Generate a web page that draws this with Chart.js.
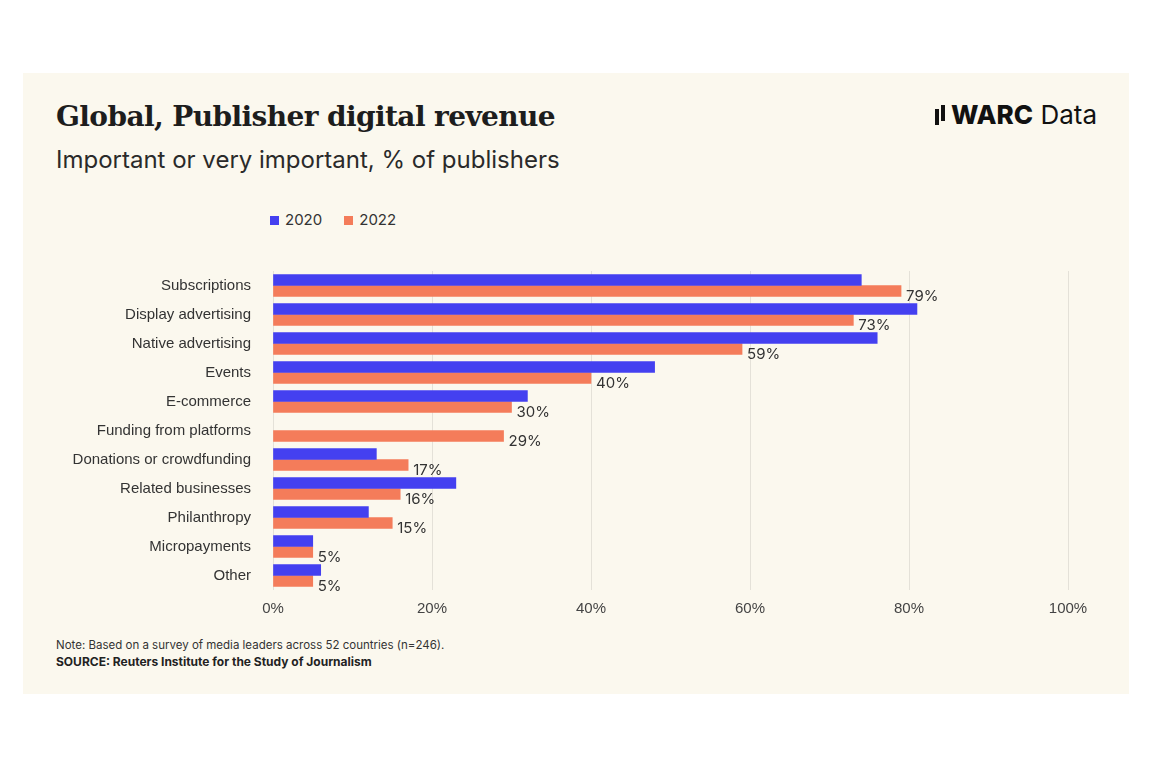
<!DOCTYPE html>
<html>
<head>
<meta charset="utf-8">
<script src="https://cdn.jsdelivr.net/npm/chart.js@4/dist/chart.umd.min.js"></script>
<style>
  body { margin: 0; background: #fff; width: 1152px; height: 768px; position: relative; font-family: Inter, "Noto Sans", sans-serif; }
  #panel { position: absolute; left: 23px; top: 73px; width: 1106px; height: 621px; background: #fbf8ee; }
  #title { position: absolute; left: 33px; top: 27px; font-family: "DejaVu Serif", serif; font-weight: bold; font-size: 28px; color: #1d1d1d; letter-spacing: -0.6px; }
  #sub { position: absolute; left: 33px; top: 72px; font-size: 24px; color: #2a2a2a; }
  #logo { position: absolute; right: 32px; top: 26px; font-size: 26px; color: #111; }
  #logo b { font-weight: 800; }
  #bars { display: inline-block; width: 4px; height: 16px; background: #111; margin-right: 12px; box-shadow: 6px -4px 0 0 #111; vertical-align: -1px; }
  #legend { position: absolute; left: 247px; top: 137px; font-size: 15px; color: #333; }
  #legend span.sw { display: inline-block; width: 9px; height: 9px; margin-right: 6px; }
  #legend span.it { margin-right: 22px; }
  #note { position: absolute; left: 33px; top: 565px; font-size: 11.5px; color: #333; }
  #src { position: absolute; left: 33px; top: 581px; font-size: 12px; font-weight: bold; color: #222; }
  #wrap { position: absolute; left: 23px; top: 248px; width: 1080px; height: 380px; }
</style>
</head>
<body>
<div id="panel">
  <div id="title">Global, Publisher digital revenue</div>
  <div id="sub">Important or very important, % of publishers</div>
  <div id="logo"><span id="bars"></span><b>WARC</b> Data</div>
  <div id="legend"><span class="it"><span class="sw" style="background:#4440f0"></span>2020</span><span class="it"><span class="sw" style="background:#f47c5a"></span>2022</span></div>
  <div id="note">Note: Based on a survey of media leaders across 52 countries (n=246).</div>
  <div id="src">SOURCE: Reuters Institute for the Study of Journalism</div>
</div>
<div id="wrap"><canvas id="chart"></canvas></div>
<script>
const categories = ["Subscriptions", "Display advertising", "Native advertising", "Events", "E-commerce",
  "Funding from platforms", "Donations or crowdfunding", "Related businesses", "Philanthropy", "Micropayments", "Other"];
const values2020 = [74, 81, 76, 48, 32, null, 13, 23, 12, 5, 6];
const values2022 = [79, 73, 59, 40, 30, 29, 17, 16, 15, 5, 5];
const xTicks = [0, 20, 40, 60, 80, 100];

// labels for the 2022 series
const endLabels = {
  id: "endLabels",
  afterDatasetsDraw(chart) {
    const ctx = chart.ctx;
    const meta = chart.getDatasetMeta(1);
    ctx.save();
    ctx.font = "15px Inter, 'Noto Sans', sans-serif";
    ctx.fillStyle = "#333";
    ctx.textBaseline = "middle";
    meta.data.forEach((bar, i) => {
      ctx.fillText(values2022[i] + "%", bar.x + 5, bar.y + 5);
    });
    ctx.restore();
  }
};

new Chart(document.getElementById("chart"), {
  type: "bar",
  data: {
    labels: categories,
    datasets: [
      { label: "2020", data: values2020, backgroundColor: "#4440f0", barThickness: 11 },
      { label: "2022", data: values2022, backgroundColor: "#f47c5a", barThickness: 11 }
    ]
  },
  options: {
    indexAxis: "y",
    responsive: true,
    maintainAspectRatio: false,
    animation: false,
    layout: { padding: { left: 0, right: 35, top: 0, bottom: 0 } },
    scales: {
      x: {
        min: 0, max: 100,
        afterBuildTicks: axis => { axis.ticks = xTicks.map(v => ({ value: v })); },
        ticks: { callback: v => v + "%", color: "#444", font: { size: 15 }, padding: 10 },
        grid: { color: "#e4e1d8", drawTicks: false },
        border: { display: false }
      },
      y: {
        afterFit: axis => { axis.width = 250; },
        ticks: { color: "#333", font: { size: 15 }, padding: 14 },
        grid: { display: false },
        border: { display: false }
      }
    },
    datasets: { bar: { categoryPercentage: 0.72, barPercentage: 1 } },
    plugins: {
      legend: { display: false },
      tooltip: { enabled: false }
    }
  },
  plugins: [endLabels]
});
</script>
</body>
</html>
